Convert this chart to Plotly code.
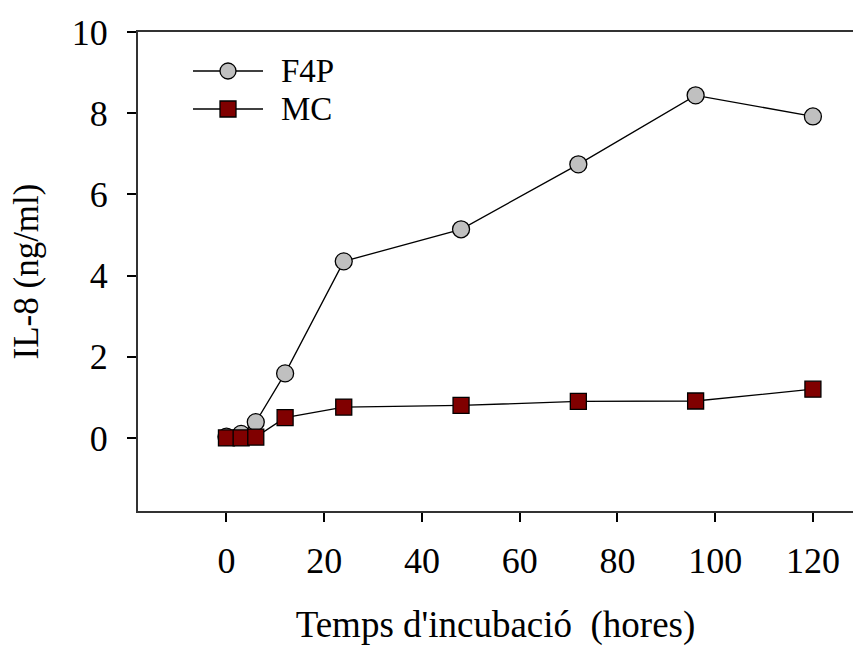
import plotly.graph_objects as go

# Incubation time (hours)
hours = [0, 3, 6, 12, 24, 48, 72, 96, 120]
# IL-8 concentration (ng/ml)
f4p = [0.03, 0.10, 0.39, 1.59, 4.35, 5.14, 6.74, 8.44, 7.92]
mc = [0.00, 0.00, 0.02, 0.50, 0.76, 0.80, 0.90, 0.91, 1.20]

x_ticks = [0, 20, 40, 60, 80, 100, 120]
y_ticks = [0, 2, 4, 6, 8, 10]

FONT = "Liberation Serif"
W, H = 853, 646
ML, MR, MT, MB = 138, 0, 32, 135

fig = go.Figure()
fig.add_trace(go.Scatter(
    x=hours, y=f4p, mode="lines+markers", name="F4P",
    line=dict(color="black", width=1.3),
    marker=dict(symbol="circle", size=17, color="#C0C0C0",
                line=dict(color="black", width=1.3)),
))
fig.add_trace(go.Scatter(
    x=hours, y=mc, mode="lines+markers", name="MC",
    line=dict(color="black", width=1.3),
    marker=dict(symbol="square", size=16, color="#800000",
                line=dict(color="black", width=1.3)),
))

# Hand-drawn legend (long line sample with marker in the middle)
pw = W - ML - MR
ph = H - MT - MB

def px_x(p):
    return (p - ML) / pw

def px_y(p):
    return (H - MB - p) / ph

shapes = []
annotations = []
legend_rows = [
    ("F4P", 71, "circle", "#C0C0C0"),
    ("MC", 109, "rect", "#800000"),
]
for label, py, kind, fill in legend_rows:
    yy = px_y(py)
    shapes.append(dict(type="line", xref="paper", yref="paper",
                       x0=px_x(193), x1=px_x(263), y0=yy, y1=yy,
                       line=dict(color="black", width=1.3)))
    shapes.append(dict(type=kind, xref="paper", yref="paper",
                       xsizemode="pixel", ysizemode="pixel",
                       xanchor=px_x(228), yanchor=yy,
                       x0=-8, x1=8, y0=-8, y1=8,
                       fillcolor=fill, line=dict(color="black", width=1.3)))
    annotations.append(dict(text=label, xref="paper", yref="paper",
                            x=px_x(279), y=yy, xanchor="left", yanchor="middle",
                            showarrow=False,
                            font=dict(family=FONT, size=33, color="black")))

fig.update_layout(
    width=W, height=H,
    margin=dict(l=ML, r=MR, t=MT, b=MB),
    paper_bgcolor="white", plot_bgcolor="white",
    showlegend=False,
    shapes=shapes, annotations=annotations,
    font=dict(family=FONT, size=36, color="black"),
    xaxis=dict(
        range=[-18.1, 128.2], tickvals=x_ticks,
        showgrid=False, zeroline=False,
        showline=True, linecolor="#333333", linewidth=2, mirror=True,
        ticks="outside", ticklen=9, tickwidth=1.5, tickcolor="black",
        ticklabelstandoff=8,
        tickfont=dict(family=FONT, size=36),
        title=dict(text="Temps d'incubació\u00a0 (hores)", standoff=36,
                   font=dict(family=FONT, size=37)),
    ),
    yaxis=dict(
        range=[-1.8, 10], tickvals=y_ticks,
        showgrid=False, zeroline=False,
        showline=True, linecolor="#333333", linewidth=2, mirror=False,
        ticks="outside", ticklen=9, tickwidth=1.5, tickcolor="black",
        ticklabelstandoff=12,
        tickfont=dict(family=FONT, size=36),
        title=dict(text="IL-8 (ng/ml)", standoff=23,
                   font=dict(family=FONT, size=35)),
    ),
)

fig.write_html("out.html")
